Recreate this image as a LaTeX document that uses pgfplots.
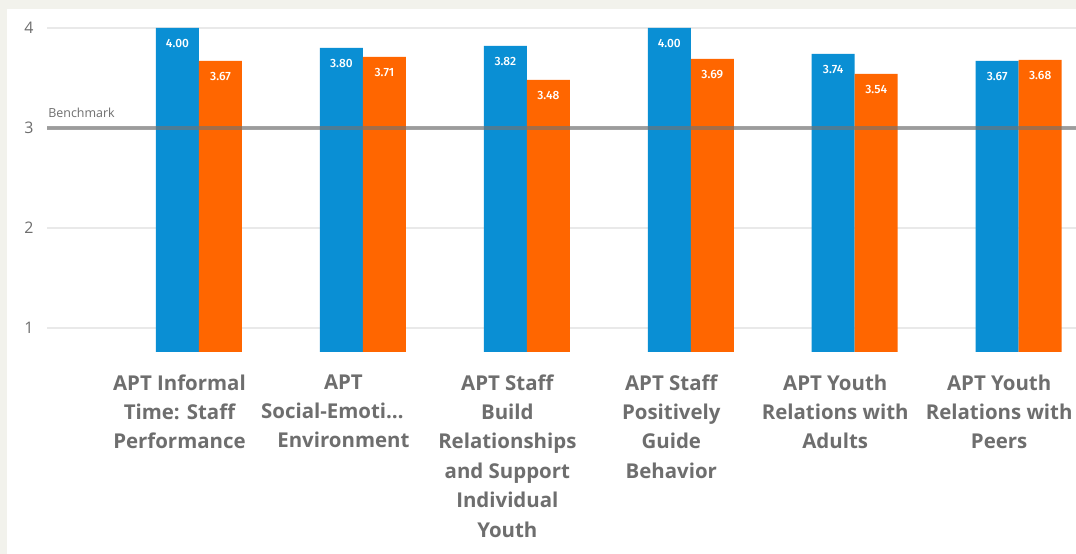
\documentclass[border=0pt]{standalone}
\usepackage{fontspec}
\setmainfont{Open Sans}
\newfontfamily\valfont{Fira Sans}[UprightFont=* Medium]
\usepackage{pgfplots}
\pgfplotsset{compat=1.18}
\definecolor{bgframe}{HTML}{F2F2EC}
\definecolor{bblue}{HTML}{0A8FD4}
\definecolor{borange}{HTML}{FF6600}
\definecolor{labgray}{HTML}{6E6E6E}
\definecolor{gridgray}{HTML}{E9E9E9}
\begin{document}
\begin{tikzpicture}[x=1bp,y=1bp]
\fill[bgframe] (0,0) rectangle (1076,554);
\fill[white] (7,0) rectangle (1076,544.5);
\begin{axis}[
  at={(47bp,202bp)}, anchor=south west,
  scale only axis, width=1029bp, height=332bp,
  xmin=-0.927, xmax=5.35, ymin=0.76, ymax=4.08,
  axis line style={draw=none}, tick style={draw=none},
  ybar, bar width=43bp,
  ytick={1,2,3,4}, yticklabels={}, ymajorgrids, grid style={gridgray, line width=1.3bp},
  xtick=\empty,
  clip=true,
  /pgf/number format/assume math mode=true,
  nodes near coords,
  every node near coord/.append style={font=\valfont\fontsize{12}{12}\selectfont, text=white, anchor=center, yshift=-15.5bp},
  point meta=y,
  nodes near coords={\pgfmathprintnumber[fixed,fixed zerofill,precision=2,assume math mode=true]{\pgfplotspointmeta}},
]
\addplot[fill=bblue, draw=none, bar shift=-21.5bp] coordinates {(0,4.00) (1,3.80) (2,3.82) (3,4.00) (4,3.74) (5,3.67)};
\addplot[fill=borange, draw=none, bar shift=21.5bp] coordinates {(0,3.67) (1,3.71) (2,3.48) (3,3.69) (4,3.54) (5,3.68)};
\end{axis}
\begin{axis}[
  at={(47bp,202bp)}, anchor=south west,
  scale only axis, width=1029bp, height=332bp,
  xmin=-0.927, xmax=5.35, ymin=0.76, ymax=4.08,
  axis line style={draw=none},
  ytick={1,2,3,4}, xtick={0,1,2,3,4,5},
  tick style={draw=none},
  /pgf/number format/assume math mode=true,
  yticklabel style={font=\fontsize{16}{16}\selectfont, text=labgray, xshift=-10bp},
  xticklabels={{APT Informal\\Time: Staff\\Performance},{APT\\\hspace*{-22bp}Social-Emoti…\\Environment},{APT Staff\\Build\\Relationships\\and Support\\Individual\\Youth},{APT Staff\\Positively\\Guide\\Behavior},{APT Youth\\Relations with\\Adults},{APT Youth\\Relations with\\Peers}},
  xticklabel style={font=\bfseries\fontsize{20.5}{29.5}\selectfont, text=labgray, align=center, anchor=north, yshift=-19bp, xshift=-19.5bp},
]
\addplot[draw=gray!90!black, opacity=0.65, line width=3.5bp] coordinates {(-0.927,3) (5.35,3)};
\node[anchor=south west, font=\fontsize{12.5}{12.5}\selectfont, text=labgray, inner sep=0pt] at (axis cs:-0.92,3.1) {Benchmark};
\end{axis}
\pgfresetboundingbox
\useasboundingbox (0,0) rectangle (1076,554);
\end{tikzpicture}
\end{document}
